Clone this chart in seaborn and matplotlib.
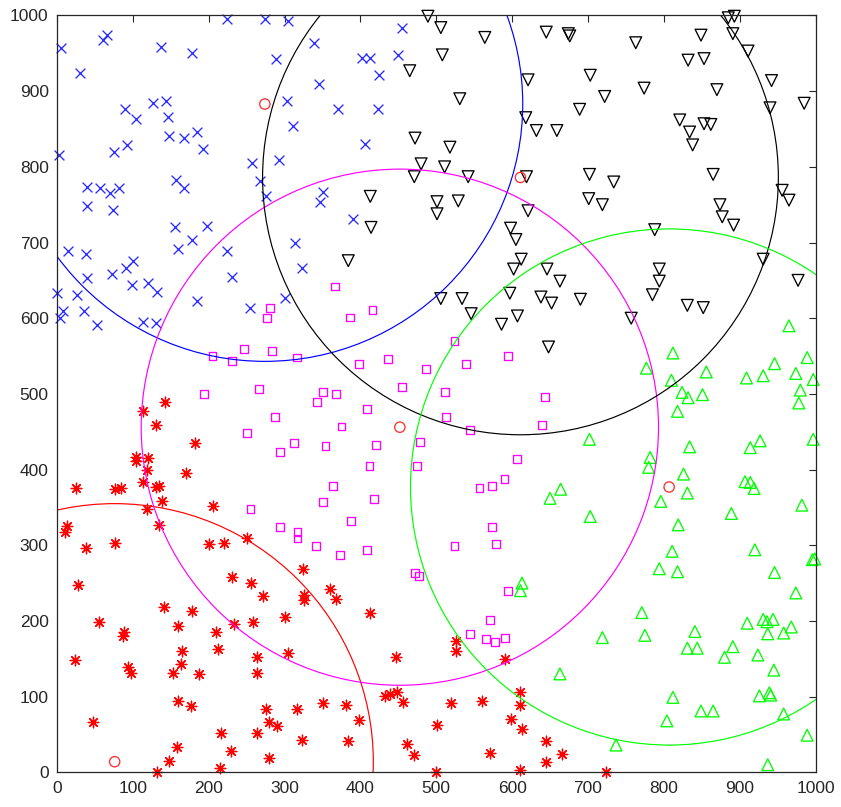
import numpy as np
import pandas as pd
import matplotlib
matplotlib.use("Agg")
import matplotlib.pyplot as plt
from matplotlib.patches import Circle
import seaborn as sns

# ---------------- data ----------------
blue_pts = [(5,957),(60,968),(66,974),(30,924),(137,959),(178,951),(224,995),(274,995),(305,993),(289,942),
            (303,887),(311,854),(292,809),(257,805),(268,781),(276,761),(127,885),(144,887),(146,866),(89,876),
            (104,863),(148,841),(168,838),(184,846),(192,824),(92,829),(75,819),(3,816),(39,774),(57,772),
            (70,765),(82,772),(39,748),(74,743),(157,783),(168,772),(155,720),(198,722),(178,703),(159,691),
            (224,689),(314,700),(15,689),(38,685),(100,676),(91,666),(72,659),(39,653),(99,644),(120,646),
            (132,635),(0,633),(26,631),(8,609),(4,600),(35,610),(53,591),(113,595),(131,594),(184,623),
            (231,655),(255,614),(301,627),(323,667),(455,983),(339,963),(402,944),(413,944),(449,948),(425,922),
            (346,909),(371,877),(423,876),(406,830),(351,767),(347,754),(390,731)]

black_pts = [(489,999),(506,984),(564,971),(645,978),(674,976),(676,973),(508,948),(465,927),(531,890),(621,915),
             (618,865),(632,848),(659,848),(472,838),(518,826),(480,804),(511,800),(471,787),(542,787),(619,787),
             (413,761),(501,754),(501,738),(529,755),(621,742),(598,719),(605,704),(414,720),(384,676),(612,678),
             (602,665),(646,665),(663,649),(506,626),(534,626),(546,606),(597,633),(638,628),(652,620),(607,603),
             (586,592),(648,562),(885,997),(893,999),(891,976),(849,974),(763,964),(911,953),(832,941),(853,943),
             (703,921),(942,914),(774,904),(870,902),(722,893),(689,876),(940,878),(985,884),(821,862),(853,857),
             (862,856),(834,846),(838,829),(702,790),(734,780),(865,790),(701,758),(719,750),(874,750),(877,734),
             (892,723),(956,769),(965,756),(788,717),(931,678),(794,665),(794,649),(785,631),(690,625),(831,617),
             (852,614),(757,600),(977,650)]

magenta_pts = [(281,614),(277,600),(205,550),(231,544),(247,559),(283,557),(316,548),(194,500),(266,507),(287,469),
               (251,448),(312,435),(294,423),(255,348),(294,324),(317,318),(317,309),(366,642),(416,611),(386,601),
               (524,570),(595,550),(398,539),(436,546),(486,533),(539,540),(455,509),(351,502),(368,500),(343,489),
               (511,502),(643,496),(409,480),(513,470),(639,459),(544,452),(375,457),(354,431),(420,433),(479,437),
               (412,405),(475,405),(607,414),(364,378),(418,361),(351,357),(557,376),(573,378),(590,387),(388,332),
               (342,299),(373,287),(409,294),(573,324),(579,302),(524,299),(472,263),(477,259),(595,239),(571,201),
               (545,183),(566,176),(577,172),(591,177)]

green_pts = [(965,590),(989,548),(812,554),(777,534),(856,529),(946,540),(909,521),(931,524),(974,527),(997,519),
             (810,518),(824,502),(832,495),(851,499),(980,505),(978,488),(818,477),(702,440),(834,430),(927,438),
             (914,429),(997,440),(782,416),(780,403),(826,394),(831,369),(796,358),(907,384),(914,383),(919,375),
             (664,374),(650,362),(703,338),(889,342),(982,353),(613,250),(611,240),(663,130),(819,327),(811,292),
             (920,294),(794,269),(818,265),(996,281),(999,282),(946,264),(974,237),(771,211),(719,178),(775,181),
             (841,186),(831,164),(844,164),(910,197),(931,202),(936,199),(944,202),(937,183),(958,184),(968,192),
             (891,166),(880,152),(924,155),(945,135),(812,99),(926,101),(939,105),(941,102),(849,81),(865,81),
             (804,68),(958,77),(989,49),(737,36),(937,10)]

red_pts = [(143,489),(113,478),(131,459),(182,435),(104,416),(104,411),(120,415),(118,400),(170,396),(113,383),
           (131,377),(135,378),(25,375),(77,374),(85,375),(139,359),(205,352),(118,348),(13,325),(10,318),
           (135,327),(38,297),(76,303),(201,302),(220,303),(250,310),(28,247),(231,258),(256,250),(272,233),
           (324,268),(325,234),(325,228),(141,218),(178,213),(55,198),(159,193),(233,196),(259,198),(300,205),
           (88,186),(87,180),(209,185),(165,160),(212,163),(24,149),(263,152),(305,157),(93,139),(97,131),
           (163,143),(153,131),(187,130),(264,131),(160,94),(177,87),(276,83),(316,83),(48,67),(279,67),
           (290,61),(216,52),(263,52),(323,43),(158,33),(229,28),(148,15),(279,19),(215,6),(132,0),
           (360,242),(368,229),(412,211),(447,152),(526,173),(526,160),(590,150),(433,101),(439,104),(448,106),
           (456,93),(351,91),(381,89),(398,69),(384,42),(519,92),(560,94),(501,63),(462,38),(470,23),
           (499,0),(571,26),(611,106),(611,89),(599,70),(613,57),(645,42),(645,13),(666,24),(610,3),(724,0)]

center_x = [76, 274, 452, 611, 807]
center_y = [14, 883, 456, 786, 377]
radius = [341, 340, 341, 340, 341]
circle_colors = ["#ff0000", "#0000ff", "#ff00ff", "#000000", "#00ff00"]

x_ticks = [0, 100, 200, 300, 400, 500, 600, 700, 800, 900, 1000]
y_ticks = [0, 100, 200, 300, 400, 500, 600, 700, 800, 900, 1000]

# ---------------- plot ----------------
sns.set_theme(style="white")
plt.rcParams["font.family"] = ["Liberation Sans", "DejaVu Sans"]

fig = plt.figure(figsize=(8.41, 8.07), dpi=100)
ax = fig.add_axes([0.0678, 0.043, 0.9019, 0.9378])
ax.set_facecolor("white")

ast = (8, 2, 0)
groups = [
    (red_pts, "#ff0000", ast, 58, False),
    (blue_pts, "#2a2aff", "x", 50, False),
    (magenta_pts, "#ff00ff", "s", 32, True),
    (black_pts, "#000000", "v", 72, True),
    (green_pts, "#00ff00", "^", 72, True),
]
for pts, col, mk, size, hollow in groups:
    df = pd.DataFrame(pts, columns=["x", "y"])
    kw = dict(facecolor="none") if hollow else {}
    sns.scatterplot(data=df, x="x", y="y", ax=ax, marker=mk, s=size,
                    color=col, edgecolor=col, linewidth=0.95, legend=False, **kw)

cdf = pd.DataFrame({"x": center_x, "y": center_y})
sns.scatterplot(data=cdf, x="x", y="y", ax=ax, marker="o", s=55, color="#ff3030",
                facecolor="none", edgecolor="#ff3030", linewidth=0.95, legend=False)

for coll in ax.collections:
    coll.set_clip_on(False)

for cx, cy, r, col in zip(center_x, center_y, radius, circle_colors):
    ax.add_patch(Circle((cx, cy), r, fill=False, edgecolor=col, linewidth=0.85))

ax.set_xlim(0, 1000)
ax.set_ylim(0, 1000)
ax.set_xticks(x_ticks)
ax.set_yticks(y_ticks)
ax.set_xlabel("")
ax.set_ylabel("")
ax.tick_params(direction="in", top=True, right=True, length=5, width=0.8,
               color="#262626", labelcolor="#262626", labelsize=12.5, pad=6)
for sp in ax.spines.values():
    sp.set_visible(True)
    sp.set_color("#262626")
    sp.set_linewidth(0.9)

fig.savefig("out.png", dpi=100)
